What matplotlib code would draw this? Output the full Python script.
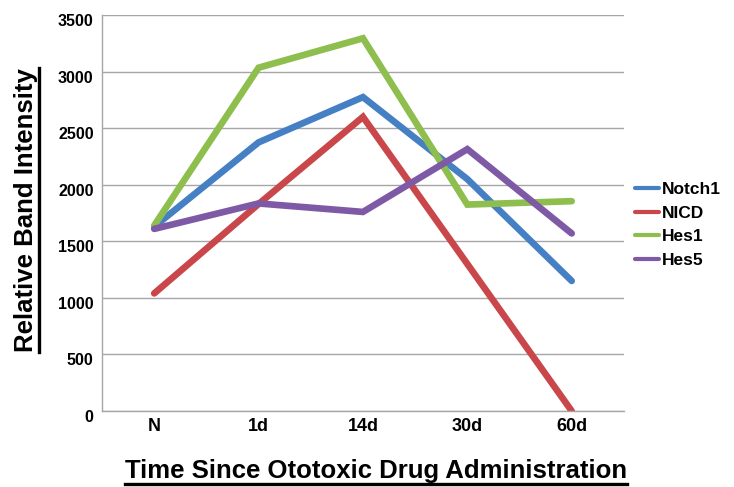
import matplotlib
matplotlib.use('Agg')
import matplotlib.pyplot as plt
import matplotlib.transforms as mtransforms
from matplotlib.lines import Line2D

plt.rcParams['font.family'] = ['Liberation Sans', 'DejaVu Sans']
plt.rcParams['font.weight'] = 'bold'

# data
timepoints = ['N', '1d', '14d', '30d', '60d']
notch1 = [1630, 2375, 2775, 2050, 1150]
nicd = [1040, 1830, 2600, 1300, 0]
hes1 = [1640, 3035, 3295, 1825, 1855]
hes5 = [1610, 1835, 1760, 2315, 1570]
yticks = [0, 500, 1000, 1500, 2000, 2500, 3000, 3500]

series = [
    ('Notch1', notch1, '#4680C4'),
    ('NICD', nicd, '#C9474A'),
    ('Hes1', hes1, '#8EBF4E'),
    ('Hes5', hes5, '#7E5AA6'),
]

fig = plt.figure(figsize=(7.34, 4.87), dpi=100)
ax = fig.add_axes([0.139, 0.156, 0.711, 0.813])

x = list(range(len(timepoints)))
for name, vals, col in series:
    ax.plot(x, vals, color=col, linewidth=4.8, label=name,
            solid_capstyle='round', solid_joinstyle='miter')

ax.set_xlim(-0.5, len(timepoints) - 0.5)
ax.set_ylim(0, 3500)
ax.set_yticks(yticks)
ax.set_yticklabels([str(v) for v in yticks], fontsize=11.5, fontweight='bold')
ax.set_xticks(x)
ax.set_xticklabels(timepoints, fontsize=13, fontweight='bold')
ax.tick_params(axis='both', length=0)
ax.tick_params(axis='y', pad=6)
ax.tick_params(axis='x', pad=5)
# labels sit a little below their gridlines in the original
shift = mtransforms.ScaledTranslation(0, -5 / 100, fig.dpi_scale_trans)
for lab in ax.get_yticklabels():
    lab.set_transform(lab.get_transform() + shift)
ax.yaxis.grid(True, color='#A6A6A6', linewidth=1.0)
ax.set_axisbelow(True)
for s in ['top', 'right']:
    ax.spines[s].set_visible(False)
for s in ['left', 'bottom']:
    ax.spines[s].set_color('#A6A6A6')
    ax.spines[s].set_linewidth(1.0)

leg = ax.legend(loc='center left', bbox_to_anchor=(1.005, 0.47), frameon=False,
                prop={'size': 12.5, 'weight': 'bold'}, handlelength=1.35,
                handletextpad=0.2, labelspacing=0.5, borderaxespad=0.1)
for h in leg.legend_handles:
    h.set_linewidth(3)

ylab = fig.text(0.036, 0.569, 'Relative Band Intensity', rotation=90,
                fontsize=18.5, fontweight='bold', ha='center', va='center')
xlab = fig.text(0.512, 0.033, 'Time Since Ototoxic Drug Administration',
                fontsize=18.5, fontweight='bold', ha='center', va='center')

# underline the axis titles
fig.canvas.draw()
r = fig.canvas.get_renderer()
inv = fig.transFigure.inverted()
bb = xlab.get_window_extent(r)
(x0, y0), (x1, _) = inv.transform([(bb.x0, bb.y0 - 1), (bb.x1, bb.y0)])
fig.add_artist(Line2D([x0, x1], [y0, y0], color='black', linewidth=2.4,
                      transform=fig.transFigure))
bb = ylab.get_window_extent(r)
(x0, y0), (_, y1) = inv.transform([(bb.x1 + 1, bb.y0), (bb.x1, bb.y1)])
fig.add_artist(Line2D([x0, x0], [y0, y1], color='black', linewidth=2.4,
                      transform=fig.transFigure))

fig.savefig('out.png', dpi=100)
